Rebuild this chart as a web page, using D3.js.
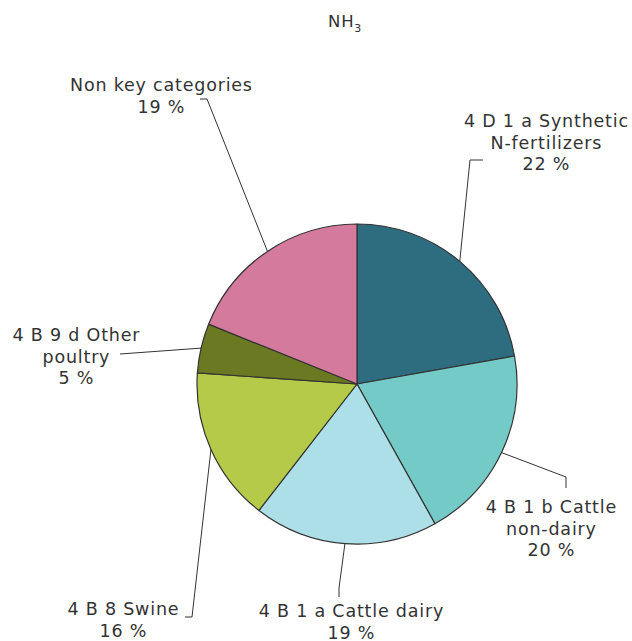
<!DOCTYPE html>
<html>
<head>
<meta charset="utf-8">
<script src="https://cdn.jsdelivr.net/npm/d3@7"></script>
<style>
  html, body { margin: 0; padding: 0; background: #ffffff; }
  svg { display: block; }
  text { font-family: "DejaVu Sans", Verdana, sans-serif; fill: #333333; }
</style>
</head>
<body>
<svg id="chart" width="632" height="641"></svg>
<script>
// NH3 emission shares by source category (percent)
const categories = [
  "4 D 1 a Synthetic N-fertilizers",
  "4 B 1 b Cattle non-dairy",
  "4 B 1 a Cattle dairy",
  "4 B 8 Swine",
  "4 B 9 d Other poultry",
  "Non key categories"
];
const values = [22.2, 19.7, 18.6, 15.6, 5.0, 18.9];
const colors = ["#2e6c80", "#74cac6", "#addfe8", "#b5ca48", "#6b7a22", "#d47a9c"];

// Label text lines (name split over lines; percent line appended)
const labelLines = [
  ["4 D 1 a Synthetic", "N-fertilizers"],
  ["4 B 1 b Cattle", "non-dairy"],
  ["4 B 1 a Cattle dairy"],
  ["4 B 8 Swine"],
  ["4 B 9 d Other", "poultry"],
  ["Non key categories"]
];

// Label placement: elbow of the leader, end of the leader, text anchor point
const layout = [
  { elbow: [470, 160], end: [483, 160], text: [546, 127] },
  { elbow: [566, 477], end: [566, 488], text: [551, 513] },
  { elbow: [339, 588], end: [339, 597], text: [351, 617] },
  { elbow: [192, 617], end: [185, 617], text: [123, 615] },
  { elbow: [120, 354], end: [120, 354], text: [76, 341] },
  { elbow: [207, 99],  end: [200, 99],  text: [161, 91] }
];

const svg = d3.select("#chart");
const cx = 357, cy = 384, radius = 160;
const lineH = 21.5;
const spacing = 0.8;

// Title with subscript
const title = svg.append("text")
  .attr("x", 328).attr("y", 27)
  .style("font-size", "16.5px")
  .style("letter-spacing", "0.8px");
title.append("tspan").text("NH");
title.append("tspan").attr("dy", 5).style("font-size", "11px").text("3");

const pie = d3.pie().sort(null).value(d => d)
  .startAngle(0).endAngle(2 * Math.PI);
const arcs = pie(values);
const arc = d3.arc().innerRadius(0).outerRadius(radius);

const g = svg.append("g").attr("transform", `translate(${cx},${cy})`);
g.selectAll("path.slice")
  .data(arcs)
  .join("path")
  .attr("class", "slice")
  .attr("d", arc)
  .attr("fill", (d, i) => colors[i])
  .attr("stroke", "#333333")
  .attr("stroke-width", 1.2)
  .attr("stroke-linejoin", "round");

// Leader lines from the slice's mid-angle on the rim
const fmt = v => `${Math.round(v)} %`;
arcs.forEach((d, i) => {
  const mid = (d.startAngle + d.endAngle) / 2;
  const sx = cx + radius * Math.sin(mid);
  const sy = cy - radius * Math.cos(mid);
  const L = layout[i];
  svg.append("polyline")
    .attr("points", [[sx, sy], L.elbow, L.end].map(p => p.join(",")).join(" "))
    .attr("fill", "none")
    .attr("stroke", "#333333")
    .attr("stroke-width", 1);

  const lines = labelLines[i].concat([fmt(values[i])]);
  const t = svg.append("text")
    .attr("y", L.text[1])
    .attr("text-anchor", "middle")
    .style("font-size", "17.5px")
    .style("letter-spacing", spacing + "px");
  lines.forEach((s, k) => {
    // shift by half the trailing letter-spacing so lines stay centred
    t.append("tspan").attr("x", L.text[0] + spacing / 2)
      .attr("dy", k === 0 ? 0 : lineH).text(s);
  });
});
</script>
</body>
</html>
